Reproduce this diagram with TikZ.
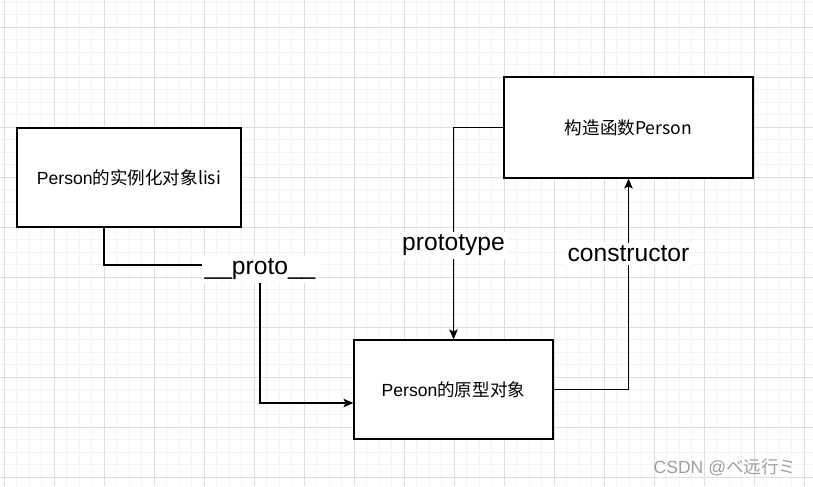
\documentclass[tikz,border=0pt]{standalone}
\usepackage{fontspec}
\setmainfont{Liberation Sans}
\newfontfamily\cjk{Noto Sans CJK SC}
\usetikzlibrary{arrows.meta}
\definecolor{minorgrid}{HTML}{F3F3F3}
\definecolor{majorgrid}{HTML}{DEDEDE}
\tikzset{
    box/.style={draw, rectangle, fill=white, line width=0.9pt, inner sep=0pt, font=\fontsize{12.5}{14}\selectfont},
    arrow/.style={-{Stealth[length=7pt, width=6pt, inset=1.5pt]}, line width=0.9pt},
    edgelabel/.style={fill=white, inner sep=2pt, font=\fontsize{17.5}{20}\selectfont}
}
\begin{document}
\begin{tikzpicture}[x=0.025cm, y=-0.025cm]
        \useasboundingbox (0,0) rectangle (813,486);
        % Grid
        \foreach \i in {0,...,64} \draw [minorgrid, line width=0.5pt] ({4.3+12.5*\i},0) -- ({4.3+12.5*\i},486);
        \foreach \j in {0,...,38} \draw [minorgrid, line width=0.5pt] (0,{2.3+12.5*\j}) -- (813,{2.3+12.5*\j});
        \foreach \i in {0,...,16} \draw [majorgrid, line width=0.6pt] ({4.3+50*\i},0) -- ({4.3+50*\i},486);
        \foreach \j in {0,...,9} \draw [majorgrid, line width=0.6pt] (0,{27.3+50*\j}) -- (813,{27.3+50*\j});

        % Nodes
        \node (lisi) [box, minimum width=5.6cm, minimum height=2.475cm] at (129,177.5) {Person\cjk{的实例化对象}lisi};
        \node (ctor) [box, minimum width=6.225cm, minimum height=2.525cm] at (628.5,127.5) {\cjk{构造函数}Person};
        \node (proto) [box, minimum width=4.975cm, minimum height=2.475cm] at (453.5,389.5) {Person\cjk{的原型对象}};
        \coordinate (protobend) at (260,265);
        \node (mark) [text=gray!75, font=\fontsize{12.5}{14}\selectfont] at (725,467) {CSDN @\cjk{ベ远行ミ}};

        % Arrows
        \draw [arrow] ([xshift=-0.625cm]lisi.south) |- (protobend) node [edgelabel, yshift=-3pt] {\_\_proto\_\_} |- ([yshift=-0.3375cm]proto.west);
        \draw [arrow] (ctor.west) -| node [edgelabel, pos=0.778] {prototype} (proto.north);
        \draw [arrow] (proto.east) -| node [edgelabel, pos=0.822] {constructor} (ctor.south);

    \end{tikzpicture}
\end{document}
